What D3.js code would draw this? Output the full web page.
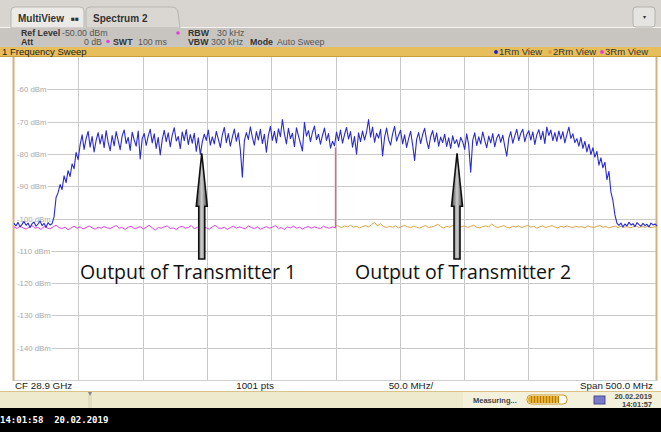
<!DOCTYPE html>
<html>
<head>
<meta charset="utf-8">
<script src="https://cdn.jsdelivr.net/npm/d3@7"></script>
<style>
  html, body { margin: 0; padding: 0; background: #ffffff; }
  #chart { width: 661px; height: 432px; overflow: hidden; }
  svg { font-family: "Liberation Sans", Arial, sans-serif; }
</style>
</head>
<body>
<div id="chart"></div>
<script>
const centerFreq = 28.9e9;   // CF 28.9 GHz
const spanFreq = 500e6;      // Span 500.0 MHz
const refLevel = -50;        // Ref Level -50.00 dBm
const yTicks = [-60, -70, -80, -90, -100, -110, -120, -130, -140];

// 1Rm View (blue) - full span
const trace1 = [
  -101.5,-102.3,-101.2,-102.6,-101.8,-100.9,-102.1,-101.4,-102.8,-101.6,
  -101.1,-102.4,-101.7,-100.8,-102.2,-101.5,-102.7,-101.3,-102.0,-101.6,
  -99.5,-93.5,-92.0,-89.5,-91.0,-86.8,-88.9,-85.2,-87.0,-83.1,-84.6,-79.5,-81.8,
  -77.2,-74.1,-78.6,-75.3,-73.0,-77.9,-74.6,-79.4,-75.8,-73.4,
  -76.9,-74.0,-78.1,-72.8,-76.4,-79.0,-74.3,-77.5,-73.1,-75.9,
  -78.7,-74.4,-72.6,-76.8,-74.9,-78.9,-73.3,-75.7,-77.6,-72.9,
  -81.6,-75.2,-73.7,-77.4,-74.5,-72.4,-76.6,-73.8,-78.3,-74.9,
  -80.3,-75.6,-72.7,-76.2,-73.5,-77.8,-74.2,-71.9,-76.0,-74.6,
  -78.4,-73.2,-75.9,-72.5,-77.1,-74.0,-76.7,-73.6,-79.2,-75.0,
  -80.2,-76.3,-73.9,-75.8,-72.6,-77.3,-74.7,-76.9,-73.0,-75.4,
  -78.0,-74.1,-71.8,-76.5,-73.7,-77.6,-74.8,-72.3,-76.1,-73.5,
  -78.8,-87.2,-76.0,-73.4,-75.5,-71.6,-74.9,-77.3,-73.1,-75.7,
  -72.4,-76.8,-73.9,-79.5,-74.2,-71.5,-75.8,-73.0,-76.6,-72.2,
  -74.7,-69.4,-73.8,-76.9,-72.1,-75.3,-73.6,-77.8,-71.9,-74.4,
  -76.7,-79.1,-70.2,-74.5,-72.8,-76.2,-73.3,-71.4,-75.6,-73.9,
  -77.0,-74.3,-72.0,-75.8,-73.7,-78.2,-76.1,-77.5,-73.2,-75.9,
  -72.6,-76.7,-74.0,-71.8,-75.4,-73.1,-77.9,-74.6,-80.1,-73.5,
  -76.2,-72.9,-75.7,-73.3,-69.4,-74.8,-71.7,-76.4,-73.6,-75.1,
  -72.4,-80.6,-74.9,-72.0,-75.6,-77.3,-73.8,-71.5,-76.0,-74.2,
  -72.7,-76.9,-74.1,-78.0,-75.3,-73.0,-77.2,-82.0,-75.5,-73.4,
  -76.8,-74.0,-72.1,-75.9,-78.4,-74.6,-72.8,-76.3,-73.5,-77.6,
  -74.8,-76.5,-73.9,-77.7,-75.0,-78.3,-74.4,-76.8,-75.6,-77.9,
  -74.9,-76.3,-78.6,-73.8,-77.2,-85.7,-75.8,-73.5,-77.4,-74.7,
  -76.9,-73.2,-75.8,-78.1,-74.5,-76.6,-73.7,-77.8,-75.1,-73.9,
  -76.4,-74.2,-77.6,-80.7,-75.2,-73.1,-76.7,-74.4,-72.4,-75.9,
  -73.6,-72.4,-76.2,-74.0,-72.8,-75.7,-73.2,-77.1,-74.1,-72.5,
  -75.6,-73.0,-76.8,-71.7,-74.3,-72.6,-75.9,-73.4,-76.1,-72.9,
  -75.4,-73.1,-76.6,-74.0,-71.7,-75.2,-73.8,-76.5,
  -75.3,-77.6,-74.9,-78.3,-76.1,-79.4,-77.0,-80.2,-78.1,-81.0,
  -79.2,-83.5,-81.2,-84.3,-82.6,-88.0,-85.4,-91.8,-94.5,-98.9,-101.4,
  -102.1,-101.4,-102.6,-101.7,-102.3,-101.2,-102.0,-101.6,-102.5,-101.3,
  -101.9,-102.4,-101.5,-102.2,-101.8,-102.6,-101.4,-102.0,-101.7,-102.3
];

// 3Rm View (magenta) - lower half of the span
const trace3 = [
  -102.6,-103.1,-102.4,-102.9,-103.3,-102.7,-102.2,-103.0,-102.8,-103.4,
  -102.5,-102.9,-103.2,-102.6,-102.1,-102.8,-103.1,-102.7,-103.5,-102.9,
  -102.4,-103.0,-102.6,-103.2,-102.8,-102.3,-102.9,-103.3,-102.7,-103.0,
  -102.5,-102.9,-103.1,-102.6,-102.2,-103.0,-102.8,-103.4,-102.7,-102.4,
  -103.1,-102.9,-102.5,-103.2,-102.7,-102.1,-102.9,-103.6,-102.8,-103.0,
  -102.6,-102.3,-103.1,-102.9,-103.4,-102.7,-102.4,-103.0,-102.8,-102.2,
  -103.2,-102.7,-103.0,-102.5,-102.9,-103.3,-102.6,-102.1,-102.9,-103.1,
  -102.7,-103.4,-102.8,-102.4,-103.0,-102.6,-102.9,-103.2,-102.3,-102.8,
  -103.1,-102.6,-103.3,-102.9,-102.5,-103.0,-102.7,-102.2,-103.1,-102.8,
  -103.4,-102.6,-102.9,-102.4,-103.0,-102.7,-103.2,-102.8,-102.5,-103.0,
  -102.6,-102.9,-103.1,-102.4,-102.8,-103.0,-102.6,-102.9
];
// jump of the 3Rm trace at the centre frequency
const trace3Jump = [-103.0, -78.0];

// 2Rm View (orange) - upper half of the span
const trace2 = [
  -102.0,-102.4,-102.8,-102.3,-102.6,-102.1,-102.7,-102.4,-102.9,-102.5,
  -102.2,-102.6,-101.9,-101.2,-102.3,-101.6,-102.5,-102.8,-102.4,-102.7,
  -102.3,-102.9,-102.5,-102.1,-102.6,-102.8,-102.4,-102.7,-103.0,-102.5,
  -102.2,-102.8,-102.6,-102.3,-101.8,-102.5,-102.9,-102.4,-102.7,-102.2,
  -102.6,-103.0,-102.5,-102.3,-102.8,-102.4,-102.1,-102.7,-102.9,-102.5,
  -102.3,-102.6,-101.7,-102.4,-102.8,-102.5,-102.2,-102.7,-102.9,-102.4,
  -102.6,-102.3,-102.8,-102.5,-102.1,-102.7,-102.4,-103.0,-102.6,-102.3,
  -102.8,-102.5,-102.2,-102.6,-102.9,-102.4,-102.7,-102.3,-102.6,-102.8,
  -102.4,-102.7,-102.5,-102.9,-102.3,-102.6,-102.8,-102.4,-102.2,-102.7,
  -102.5,-102.9,-102.6,-102.3,-102.8,-102.4,-102.7,-102.5,-102.9,-102.6,
  -102.3,-102.8,-102.5,-102.7,-102.4,-102.9,-102.6,-102.5
];

// arrows: tip level and frequency they point at
const arrowFreqs = [28.796e9, 28.9945e9];
const arrowTips = [-79.5, -79.5];
const labels = ["Output of Transmitter 1", "Output of Transmitter 2"];

// ---- layout ----
const width = 661, height = 432;
const plotLeft = 14, plotRight = 657, plotTop = 57, plotBottom = 380;

const svg = d3.select("#chart").append("svg")
  .attr("width", width)
  .attr("height", height);

const fStart = centerFreq - spanFreq / 2;
const fStop = centerFreq + spanFreq / 2;

const xScale = d3.scaleLinear().domain([fStart, fStop]).range([plotLeft, plotRight]);
const yScale = d3.scaleLinear().domain([refLevel - 100, refLevel]).range([plotBottom, plotTop]);

// spread a trace evenly between two frequencies
function toPoints(values, f0, f1) {
  return values.map((v, i) => [f0 + (f1 - f0) * i / (values.length - 1), v]);
}

// ---- header (tabs / settings / title bar) ----
svg.append("rect").attr("x", 0).attr("y", 0).attr("width", width).attr("height", 28).attr("fill", "#d8d5d0");
svg.append("line").attr("x1", 0).attr("x2", width).attr("y1", 27.5).attr("y2", 27.5).attr("stroke", "#f4f3f0");

svg.append("path")
  .attr("d", "M11,28 L11,11 Q11,7 15,7 L80,7 Q84,7 84,11 L84,28 Z")
  .attr("fill", "#eceae6").attr("stroke", "#b9b6b0");
svg.append("path")
  .attr("d", "M86,28 L86,11 Q86,7 90,7 L172,7 Q177,7 178,12 L180,28 Z")
  .attr("fill", "#dad7d2").attr("stroke", "#b9b6b0");
svg.append("text").attr("x", 18).attr("y", 22).attr("font-size", 10).attr("font-weight", "bold").attr("fill", "#333").text("MultiView");
svg.append("text").attr("x", 71).attr("y", 21).attr("font-size", 6.5).attr("font-weight", "bold").attr("fill", "#333").text("■■");
svg.append("text").attr("x", 93).attr("y", 22).attr("font-size", 10).attr("font-weight", "bold").attr("fill", "#333").text("Spectrum 2");

svg.append("rect").attr("x", 633).attr("y", 7).attr("width", 22).attr("height", 20).attr("rx", 3)
  .attr("fill", "#e6e4e0").attr("stroke", "#b5b2ac");
svg.append("text").attr("x", 644).attr("y", 19).attr("text-anchor", "middle").attr("font-size", 6).attr("fill", "#333").text("▾");

svg.append("rect").attr("x", 0).attr("y", 28).attr("width", width).attr("height", 19).attr("fill", "#c8c5c0");

const info = svg.append("g").attr("font-size", 8.8);
info.append("text").attr("x", 21).attr("y", 36).attr("fill", "#333").attr("font-weight", "bold").text("Ref Level");
info.append("text").attr("x", 62).attr("y", 36).attr("fill", "#555").text("-50.00 dBm");
info.append("text").attr("x", 21).attr("y", 44.5).attr("fill", "#333").attr("font-weight", "bold").text("Att");
info.append("text").attr("x", 102).attr("y", 44.5).attr("fill", "#555").attr("text-anchor", "end").text("0 dB");
info.append("circle").attr("cx", 108).attr("cy", 41.5).attr("r", 1.8).attr("fill", "#e040e0");
info.append("text").attr("x", 113).attr("y", 44.5).attr("fill", "#333").attr("font-weight", "bold").text("SWT");
info.append("text").attr("x", 138).attr("y", 44.5).attr("fill", "#555").text("100 ms");
info.append("circle").attr("cx", 178).attr("cy", 33).attr("r", 1.8).attr("fill", "#e040e0");
info.append("text").attr("x", 188).attr("y", 36).attr("fill", "#333").attr("font-weight", "bold").text("RBW");
info.append("text").attr("x", 217).attr("y", 36).attr("fill", "#555").text("30 kHz");
info.append("text").attr("x", 188).attr("y", 44.5).attr("fill", "#333").attr("font-weight", "bold").text("VBW");
info.append("text").attr("x", 211).attr("y", 44.5).attr("fill", "#555").text("300 kHz");
info.append("text").attr("x", 250).attr("y", 44.5).attr("fill", "#333").attr("font-weight", "bold").text("Mode");
info.append("text").attr("x", 277).attr("y", 44.5).attr("fill", "#555").text("Auto Sweep");

// orange title bar
svg.append("rect").attr("x", 0).attr("y", 47).attr("width", width).attr("height", 10).attr("fill", "#e6bf5c");
svg.append("line").attr("x1", 0).attr("x2", width).attr("y1", 56.5).attr("y2", 56.5).attr("stroke", "#c99f3c");
svg.append("text").attr("x", 2).attr("y", 55).attr("font-size", 9.5).attr("fill", "#222").text("1 Frequency Sweep");

const legendItems = [
  { label: "1Rm View", color: "#1a1ad0", x: 496 },
  { label: "2Rm View", color: "#e0a040", x: 550 },
  { label: "3Rm View", color: "#e040e0", x: 602 }
];
legendItems.forEach((d) => {
  svg.append("circle").attr("cx", d.x).attr("cy", 52).attr("r", 1.9).attr("fill", d.color);
  svg.append("text").attr("x", d.x + 3).attr("y", 55).attr("font-size", 9.5).attr("fill", "#333").text(d.label);
});

// ---- plot area ----
svg.append("rect").attr("x", plotLeft).attr("y", plotTop).attr("width", plotRight - plotLeft).attr("height", plotBottom - plotTop).attr("fill", "#ffffff");

// vertical grid lines (10 divisions)
const xGrid = d3.range(1, 10).map((k) => fStart + k * spanFreq / 10);
svg.append("g")
  .selectAll("line")
  .data(xGrid)
  .join("line")
  .attr("x1", (d) => Math.round(xScale(d)) + 0.5)
  .attr("x2", (d) => Math.round(xScale(d)) + 0.5)
  .attr("y1", plotTop)
  .attr("y2", plotBottom)
  .attr("stroke", "#c9c9c9");

// horizontal grid lines with inline labels
const yAxis = svg.append("g").attr("font-size", 7.8);
yTicks.forEach((t) => {
  const y = Math.round(yScale(t)) + 0.5;
  const label = yAxis.append("text").attr("x", 17).attr("y", y + 2.8).attr("fill", "#a8a8a8").text(t + " dBm");
  const w = label.node().getComputedTextLength();
  yAxis.append("line")
    .attr("x1", 17 + w + 1).attr("x2", plotRight)
    .attr("y1", y).attr("y2", y)
    .attr("stroke", "#c9c9c9");
});

// borders
svg.append("line").attr("x1", plotLeft - 0.5).attr("x2", plotLeft - 0.5).attr("y1", plotTop).attr("y2", 391).attr("stroke", "#d4b27c").attr("stroke-width", 2);
svg.append("line").attr("x1", plotRight - 0.5).attr("x2", plotRight - 0.5).attr("y1", plotTop).attr("y2", 391).attr("stroke", "#d4b27c").attr("stroke-width", 2);
svg.append("line").attr("x1", plotLeft).attr("x2", plotRight).attr("y1", plotBottom + 0.5).attr("y2", plotBottom + 0.5).attr("stroke", "#d0d0d0");

// ---- traces ----
const line = d3.line().x((d) => xScale(d[0])).y((d) => yScale(d[1]));

svg.append("path")
  .datum(toPoints(trace3, fStart, centerFreq))
  .attr("fill", "none").attr("stroke", "#e040e0").attr("stroke-width", 1)
  .attr("d", line);
svg.append("path")
  .datum(toPoints(trace2, centerFreq, fStop))
  .attr("fill", "none").attr("stroke", "#dba445").attr("stroke-width", 1)
  .attr("d", line);
svg.append("path")
  .datum(toPoints(trace1, fStart, fStop))
  .attr("fill", "none").attr("stroke", "#2a2ad2").attr("stroke-width", 1.1)
  .attr("stroke-linejoin", "round")
  .attr("d", line);
svg.append("path")
  .datum(trace3Jump.map((v) => [centerFreq, v]))
  .attr("fill", "none").attr("stroke", "#f05a9a").attr("stroke-width", 1.3)
  .attr("d", line);

// ---- annotations ----
const defs = svg.append("defs");
const grad = defs.append("linearGradient").attr("id", "arrowFill").attr("x1", 0).attr("x2", 1).attr("y1", 0).attr("y2", 0);
grad.append("stop").attr("offset", "0%").attr("stop-color", "#444");
grad.append("stop").attr("offset", "50%").attr("stop-color", "#cfcfcf");
grad.append("stop").attr("offset", "100%").attr("stop-color", "#444");

arrowFreqs.forEach((f, i) => {
  const x = xScale(f);
  const tip = yScale(arrowTips[i]) + 1;
  const headBase = tip + 53;
  const tail = 259;
  const p = d3.path();
  p.moveTo(x, tip);
  p.lineTo(x + 5.5, headBase);
  p.lineTo(x + 3, headBase);
  p.lineTo(x + 3, tail);
  p.lineTo(x - 3, tail);
  p.lineTo(x - 3, headBase);
  p.lineTo(x - 5.5, headBase);
  p.closePath();
  svg.append("path").attr("d", p.toString())
    .attr("fill", "url(#arrowFill)").attr("stroke", "#111").attr("stroke-width", 1.6)
    .attr("stroke-linejoin", "miter");
});

svg.append("text").attr("x", 80).attr("y", 279).style("font-family", "'Open Sans', sans-serif")
  .attr("font-size", 19.5).attr("fill", "#111").text(labels[0]);
svg.append("text").attr("x", 355).attr("y", 279).style("font-family", "'Open Sans', sans-serif")
  .attr("font-size", 19.5).attr("fill", "#111").text(labels[1]);

// ---- bottom info row ----
svg.append("rect").attr("x", 0).attr("y", plotBottom + 1).attr("width", width).attr("height", 10).attr("fill", "#ffffff");
const foot = svg.append("g").attr("font-size", 9.8).attr("fill", "#222");
foot.append("text").attr("x", 15).attr("y", 389).text("CF 28.9 GHz");
foot.append("text").attr("x", 255).attr("y", 389).attr("text-anchor", "middle").text("1001 pts");
foot.append("text").attr("x", 411).attr("y", 389).attr("text-anchor", "middle").text("50.0 MHz/");
foot.append("text").attr("x", 653).attr("y", 389).attr("text-anchor", "end").text("Span 500.0 MHz");

// ---- status bar ----
svg.append("rect").attr("x", 0).attr("y", 391).attr("width", width).attr("height", 17).attr("fill", "#eeeacd");
svg.append("line").attr("x1", 0).attr("x2", width).attr("y1", 391.5).attr("y2", 391.5).attr("stroke", "#d8c48a");
svg.append("rect").attr("x", 463).attr("y", 392).attr("width", 198).attr("height", 16).attr("fill", "#f3f0dc");
svg.append("rect").attr("x", 88).attr("y", 392).attr("width", 4).attr("height", 16).attr("fill", "#e2dec0");
svg.append("path").attr("d", "M88,392 L92,392 L90,396 Z").attr("fill", "#888");

svg.append("text").attr("x", 473).attr("y", 402.5).attr("font-size", 7.5).attr("font-weight", "bold").attr("fill", "#444").text("Measuring...");
svg.append("rect").attr("x", 527).attr("y", 395).attr("width", 40).attr("height", 9).attr("rx", 4)
  .attr("fill", "#ffffff").attr("stroke", "#c99a2a");
svg.append("rect").attr("x", 528).attr("y", 396).attr("width", 31).attr("height", 7).attr("rx", 3).attr("fill", "#e8b02c");
svg.append("g").selectAll("line").data(d3.range(531, 559, 3)).join("line")
  .attr("x1", (d) => d + 0.5).attr("x2", (d) => d + 0.5).attr("y1", 396).attr("y2", 403)
  .attr("stroke", "#b07a10").attr("stroke-width", 1);
svg.append("rect").attr("x", 594).attr("y", 396).attr("width", 11).attr("height", 8).attr("fill", "#7a78c8").attr("stroke", "#4a4890");
svg.append("text").attr("x", 652).attr("y", 399).attr("text-anchor", "end").attr("font-size", 7.5).attr("font-weight", "bold").attr("fill", "#444").text("20.02.2019");
svg.append("text").attr("x", 652).attr("y", 406.5).attr("text-anchor", "end").attr("font-size", 7.5).attr("font-weight", "bold").attr("fill", "#444").text("14:01:57");

// ---- black footer ----
svg.append("rect").attr("x", 0).attr("y", 408).attr("width", width).attr("height", 24).attr("fill", "#000000");
svg.append("text").attr("x", 0).attr("y", 423).style("font-family", "'DejaVu Sans Mono', monospace")
  .attr("font-size", 9).attr("font-weight", "bold").attr("fill", "#ffffff")
  .style("white-space", "pre").text("14:01:58  20.02.2019");
</script>
</body>
</html>
